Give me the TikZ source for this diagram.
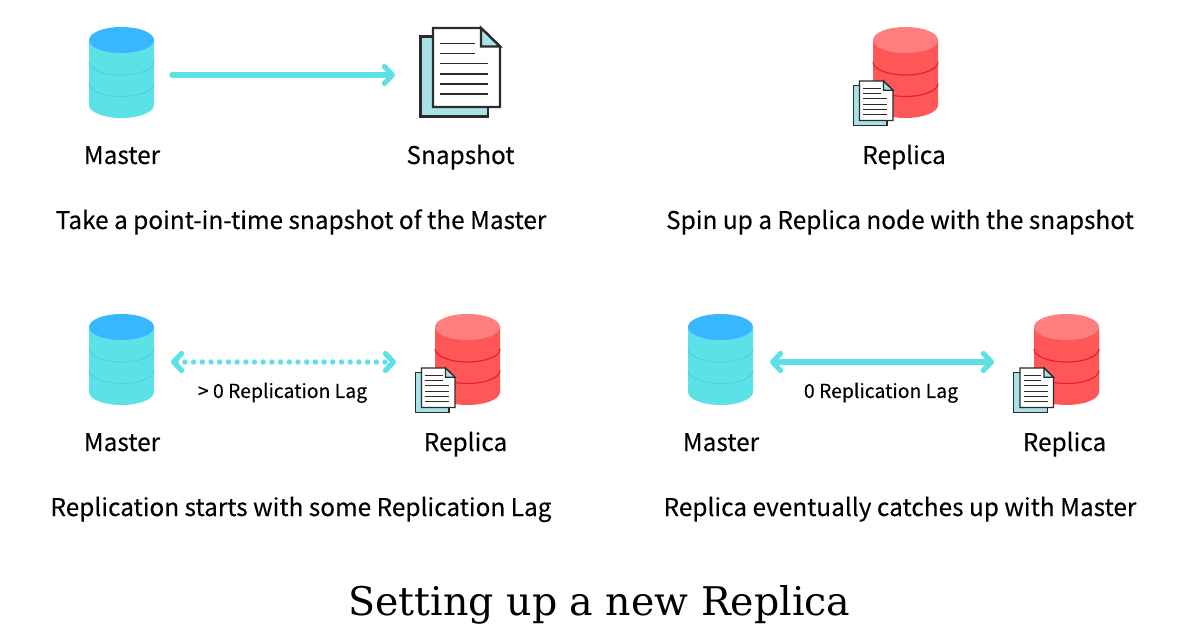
\documentclass[tikz,border=0pt]{standalone}
\usepackage{fontspec}
\setmainfont{Noto Sans CJK SC}[FakeBold=0.12]
\newfontfamily\titlefont{DejaVu Serif}
\usetikzlibrary{arrows.meta}
\definecolor{cyanb}{HTML}{5CE1E6}
\definecolor{bluetop}{HTML}{38B6FF}
\definecolor{blueband}{HTML}{4CCBF2}
\definecolor{redbody}{HTML}{FF5757}
\definecolor{redtop}{HTML}{FF7F7F}
\definecolor{redband}{HTML}{E8202A}
\definecolor{docfill}{HTML}{A9E2E6}
\definecolor{docink}{HTML}{2B2B2B}
\tikzset{
  x=1pt,y=-1pt,
  lbl/.style={font=\fontsize{24.4}{28}\selectfont,inner sep=0pt,text=black,anchor=base},
  lag/.style={font=\fontsize{19.4}{22}\selectfont,inner sep=0pt,text=black,anchor=base},
  flow/.style={cyanb,line width=5.4pt,line cap=round},
  btip/.tip={Straight Barb[length=8pt,width=17pt,line width=5.2pt,round]},
  pics/db/.style n args={4}{code={
    \fill[#1] (-32.5,0) -- (-32.5,65) arc[start angle=180,end angle=360,x radius=32.5,y radius=-13] -- (32.5,0) -- cycle;
    \draw[#3,line width=#4] (-32.5,22) arc[start angle=180,end angle=360,x radius=32.5,y radius=-13];
    \draw[#3,line width=#4] (-32.5,43.5) arc[start angle=180,end angle=360,x radius=32.5,y radius=-13];
    \fill[#2] (0,0) circle[x radius=32.5,y radius=13];
  }},
  pics/doc/.style={code={
    \begin{scope}[scale=#1,line join=miter]
      \filldraw[fill=docfill,draw=docink,line width=2pt*#1+0.3pt] (-12.5,8.5) rectangle (55,88.5);
      \filldraw[fill=white,draw=docink,line width=2pt*#1+0.3pt] (0,0) -- (48,0) -- (67,18.5) -- (67,79) -- (0,79) -- cycle;
      \filldraw[fill=docfill,draw=docink,line width=2pt*#1+0.3pt] (48,0) -- (67,18.5) -- (48,18.5) -- cycle;
      \foreach \yy/\xx in {15.5/42,25.5/42,35.5/55,46/55,56/55,66/55}
        \draw[docink,line width=1.4pt*#1+0.2pt] (7,\yy) -- (\xx,\yy);
    \end{scope}
  }},
}
\begin{document}
\begin{tikzpicture}
\useasboundingbox (0,0) rectangle (1200,628);
\fill[white] (0,0) rectangle (1200,628);
% top left
\pic at (121.5,40) {db={cyanb}{bluetop}{blueband}{0.8pt}};
\pic at (433,28) {doc=1};
\coordinate (a1) at (172,75);
\coordinate (a2) at (395,75);
\draw[flow,-{btip}] (a1) -- (a2);
\node[lbl] (m1) at (122,164) {Master};
\node[lbl] (s1) at (460.5,164) {Snapshot};
\node[lbl] (c1) at (301,229) {Take a point-in-time snapshot of the Master};
% top right
\pic at (905.5,40) {db={redbody}{redtop}{redband}{1.2pt}};
\pic at (859.5,81) {doc=0.5};
\node[lbl] (r1) at (904,164) {Replica};
\node[lbl] (c2) at (900,229) {Spin up a Replica node with the snapshot};
% bottom left
\pic at (121.5,327) {db={cyanb}{bluetop}{blueband}{0.8pt}};
\pic at (467.5,327) {db={redbody}{redtop}{redband}{1.2pt}};
\pic at (421.5,368) {doc=0.5};
\coordinate (b1) at (171,362);
\coordinate (b2) at (396,362);
\draw[flow,dash pattern=on 0pt off 8.7pt,{btip}-{btip}] (b1) -- (b2);
\node[lag] (l1) at (282.5,398) {> 0 Replication Lag};
\node[lbl] (m2) at (122,451) {Master};
\node[lbl] (r2) at (465.5,451) {Replica};
\node[lbl] (c3) at (301,516) {Replication starts with some Replication Lag};
% bottom right
\pic at (720.5,327) {db={cyanb}{bluetop}{blueband}{0.8pt}};
\pic at (1066.5,327) {db={redbody}{redtop}{redband}{1.2pt}};
\pic at (1020,368) {doc=0.5};
\coordinate (d1) at (770,362);
\coordinate (d2) at (994,362);
\draw[flow,{btip}-{btip}] (d1) -- (d2);
\node[lag] (l2) at (881,398) {0 Replication Lag};
\node[lbl] (m3) at (721,451) {Master};
\node[lbl] (r3) at (1064.5,451) {Replica};
\node[lbl] (c4) at (900,516) {Replica eventually catches up with Master};
% title
\node[inner sep=0pt,anchor=base,text=black,font=\titlefont\fontsize{39.5}{48}\selectfont] (t) at (599.5,615) {Setting up a new Replica};
\end{tikzpicture}
\end{document}
